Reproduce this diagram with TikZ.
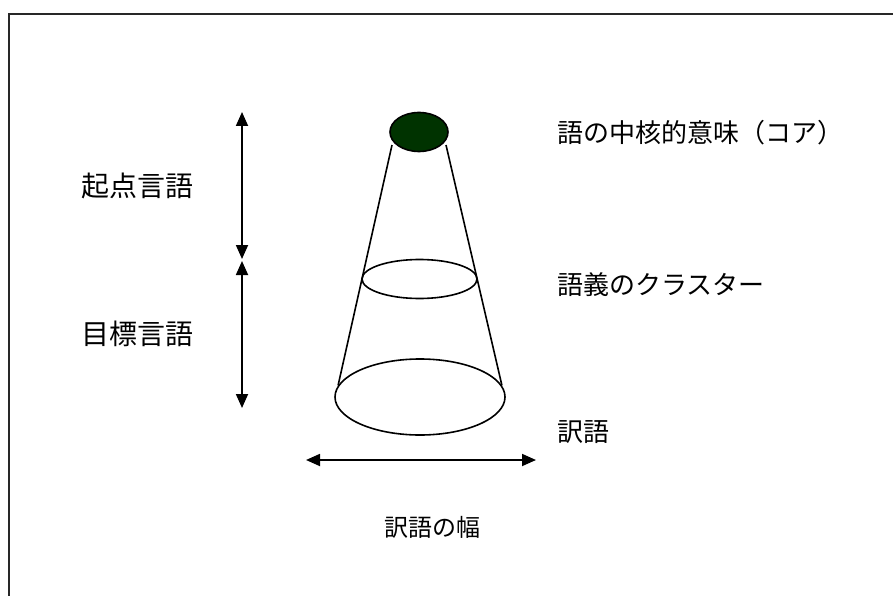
\documentclass[tikz,border=0pt]{standalone}
\usepackage{fontspec}
\newfontfamily\jp{Noto Sans CJK JP}
\usetikzlibrary{arrows.meta,shapes.geometric}
\definecolor{coregreen}{RGB}{0,51,0}
\definecolor{framegray}{RGB}{40,40,40}
\begin{document}
\begin{tikzpicture}[x=1pt,y=-1pt,
  conel/.style={line width=1.6pt, black},
  ell/.style={ellipse, draw=black, line width=1.6pt, inner sep=0pt},
  dimarrow/.style={line width=1.8pt, {Triangle[width=12pt,length=14pt]}-{Triangle[width=12pt,length=14pt]}},
  lab/.style={font=\jp\fontsize{26}{30}\selectfont, inner sep=0pt},
  sidelab/.style={font=\jp\fontsize{28}{32}\selectfont, inner sep=0pt},
  widthlab/.style={font=\jp\fontsize{24}{28}\selectfont, inner sep=0pt}]
\useasboundingbox (0,0) rectangle (893,596);
\fill[white] (0,0) rectangle (893,596);
% frame (cut off at right and bottom)
\draw[framegray, line width=1.8pt] (9,600) -- (9,14) -- (900,14);
% ellipses
\node[ell, fill=coregreen, minimum width=58pt, minimum height=39pt] (core) at (419,132) {};
\node[ell, minimum width=115pt, minimum height=39pt] (cluster) at (419.5,279) {};
\node[ell, minimum width=170pt, minimum height=76pt] (trans) at (420,397) {};
% cone sides
\coordinate (tl) at (392,145);
\coordinate (tr) at (446,145);
\draw[conel] (tl) -- (trans.172);
\draw[conel] (tr) -- (trans.8);
% vertical arrows
\coordinate (a1t) at (242,112);
\coordinate (a1b) at (242,259);
\coordinate (a2t) at (242,261);
\coordinate (a2b) at (242,408);
\draw[dimarrow] (a1t) -- (a1b);
\draw[dimarrow] (a2t) -- (a2b);
% horizontal arrow
\coordinate (hl) at (306,460);
\coordinate (hr) at (536,460);
\draw[dimarrow] (hl) -- (hr);
% labels
\node[sidelab] (src) at (137,186) {起点言語};
\node[sidelab] (tgt) at (137,334) {目標言語};
\node[lab, anchor=west] (lcore) at (557,133) {語の中核的意味（コア）};
\node[lab, anchor=west] (lclu) at (557,285) {語義のクラスター};
\node[lab, anchor=west] (ltr) at (557,432) {訳語};
\node[widthlab] (lw) at (432,527) {訳語の幅};
\end{tikzpicture}
\end{document}
